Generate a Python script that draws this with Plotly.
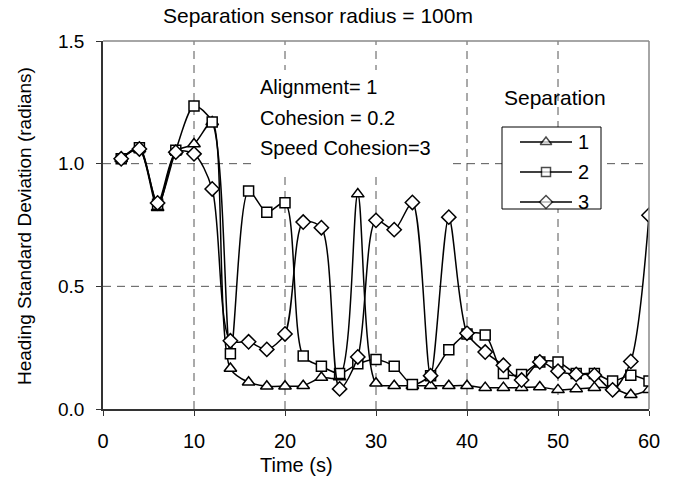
import plotly.graph_objects as go

time_s = [2, 4, 6, 8, 10, 12, 14, 16, 18, 20, 22, 24, 26, 28, 30, 32, 34, 36, 38, 40,
          42, 44, 46, 48, 50, 52, 54, 56, 58, 60]
sep1 = [1.02, 1.06, 0.82, 1.05, 1.08, 1.17, 0.165, 0.109, 0.093, 0.093, 0.095, 0.128, 0.13, 0.876,
        0.105, 0.095, 0.095, 0.095, 0.095, 0.095, 0.087, 0.087, 0.087, 0.09, 0.078, 0.082, 0.087,
        0.085, 0.058, 0.078]
sep2 = [1.02, 1.065, 0.835, 1.055, 1.235, 1.17, 0.225, 0.889, 0.802, 0.841, 0.216, 0.174, 0.145,
        0.184, 0.202, 0.174, 0.10, 0.136, 0.241, 0.306, 0.302, 0.145, 0.141, 0.192, 0.192, 0.145,
        0.145, 0.114, 0.138, 0.114]
sep3 = [1.02, 1.06, 0.84, 1.047, 1.04, 0.897, 0.278, 0.274, 0.243, 0.306, 0.762, 0.739, 0.082,
        0.212, 0.769, 0.731, 0.842, 0.136, 0.782, 0.309, 0.232, 0.178, 0.118, 0.192, 0.154, 0.141,
        0.138, 0.078, 0.194, 0.79]
series_names = ["1", "2", "3"]
symbols = ["triangle-up", "square", "diamond"]
marker_sizes = [11, 10, 11]
x_ticks = [0, 10, 20, 30, 40, 50, 60]
y_ticks = [0, 0.5, 1.0, 1.5]
y_ticktext = ["0.0", "0.5", "1.0", "1.5"]

FONT = "Liberation Sans, Arial, sans-serif"
W, H = 678, 486
L, R, T, B = 103, 29, 41, 77
PW, PH = W - L - R, H - T - B


def px(x):
    return (x - L) / PW


def py(y):
    return (H - B - y) / PH


fig = go.Figure()
for name, ys, sym, ms in zip(series_names, [sep1, sep2, sep3], symbols, marker_sizes):
    fig.add_trace(go.Scatter(
        x=time_s, y=ys, name=name, mode="lines+markers", showlegend=False,
        line=dict(color="black", width=1.5, shape="spline", smoothing=0.8),
        marker=dict(symbol=sym, size=ms, color="white", line=dict(color="black", width=1.5)),
    ))

shapes = []
annotations = []
GRID = dict(color="#555", width=1, dash="8px,6px")
# dashed gridlines (drawn as shapes so text boxes can cover them)
for xv in x_ticks[1:-1]:
    shapes.append(dict(type="line", xref="x", yref="paper", x0=xv, x1=xv, y0=0, y1=1,
                       line=GRID, layer="below"))
for yv in y_ticks[1:-1]:
    shapes.append(dict(type="line", xref="paper", yref="y", x0=0, x1=1, y0=yv, y1=yv,
                       line=GRID, layer="below"))

# white background of the parameter text box (hides gridlines like the original)
shapes.append(dict(type="rect", xref="paper", yref="paper", x0=px(252), x1=px(447),
                   y0=py(177), y1=py(70), line=dict(width=0), fillcolor="white", layer="below"))

# manual legend (box, sample lines, markers, labels)
leg_y = [142, 172, 202]
shapes.append(dict(type="rect", xref="paper", yref="paper", x0=px(502), x1=px(601),
                   y0=py(209), y1=py(127), line=dict(color="black", width=1), fillcolor="white",
                   layer="below"))
for name, yy in zip(series_names, leg_y):
    shapes.append(dict(type="line", xref="paper", yref="paper", x0=px(520), x1=px(572),
                       y0=py(yy), y1=py(yy), line=dict(color="black", width=1.5), layer="below"))
    annotations.append(dict(text=name, xref="paper", yref="paper", x=px(576), y=py(yy),
                            showarrow=False, xanchor="left", yanchor="middle", font=dict(size=20)))
fig.add_trace(go.Scatter(
    x=[px(546)] * 3, y=[py(v) for v in leg_y], xaxis="x2", yaxis="y2", mode="markers",
    showlegend=False, hoverinfo="skip", cliponaxis=False,
    marker=dict(symbol=symbols, size=[10, 9, 10], color="white", line=dict(color="black", width=1.5)),
))

# border (top/right) in lighter gray
shapes.append(dict(type="line", xref="paper", yref="paper", x0=0, x1=1, y0=1, y1=1,
                   line=dict(color="#888", width=1.5)))
shapes.append(dict(type="line", xref="paper", yref="paper", x0=1, x1=1, y0=0, y1=1,
                   line=dict(color="#888", width=1.5)))

annotations += [
    dict(text="Separation sensor radius = 100m", xref="paper", yref="paper",
         x=px(318), y=py(15), showarrow=False, font=dict(size=21),
         xanchor="center", yanchor="middle"),
    dict(text="Heading Standard Deviation (radians)", xref="paper", yref="paper",
         x=px(24), y=py(226), textangle=-90, showarrow=False,
         font=dict(size=19), xanchor="center", yanchor="middle"),
    dict(text="Time (s)", xref="paper", yref="paper",
         x=px(296), y=py(465), showarrow=False,
         font=dict(size=20), xanchor="center", yanchor="middle"),
    dict(text="Alignment= 1", xref="paper", yref="paper", x=px(258),
         y=py(87), showarrow=False, xanchor="left", yanchor="middle", font=dict(size=20)),
    dict(text="Cohesion = 0.2", xref="paper", yref="paper", x=px(258),
         y=py(118), showarrow=False, xanchor="left", yanchor="middle", font=dict(size=20)),
    dict(text="Speed Cohesion=3", xref="paper", yref="paper", x=px(258),
         y=py(148), showarrow=False, xanchor="left", yanchor="middle", font=dict(size=20)),
    dict(text="Separation", xref="paper", yref="paper", x=px(555),
         y=py(98), showarrow=False, xanchor="center", yanchor="middle", font=dict(size=21)),
]

fig.update_layout(
    width=W, height=H,
    margin=dict(l=L, r=R, t=T, b=B),
    paper_bgcolor="white", plot_bgcolor="white",
    font=dict(family=FONT, size=19, color="black"),
    showlegend=False,
    xaxis=dict(range=[0, 60], tickvals=x_ticks, showgrid=False,
               showline=True, linecolor="#333", linewidth=1.5,
               ticks="outside", ticklen=5, tickcolor="#333", zeroline=False,
               ticklabelstandoff=8, tickfont=dict(size=20)),
    yaxis=dict(range=[0, 1.5], tickvals=y_ticks, ticktext=y_ticktext, showgrid=False,
               showline=True, linecolor="#333", linewidth=1.5,
               ticks="outside", ticklen=5, tickcolor="#333", zeroline=False,
               ticklabelstandoff=8, tickfont=dict(size=19)),
    xaxis2=dict(overlaying="x", range=[0, 1], visible=False, fixedrange=True),
    yaxis2=dict(overlaying="y", range=[0, 1], visible=False, fixedrange=True),
    shapes=shapes,
    annotations=annotations,
)

fig.write_html("out.html")
